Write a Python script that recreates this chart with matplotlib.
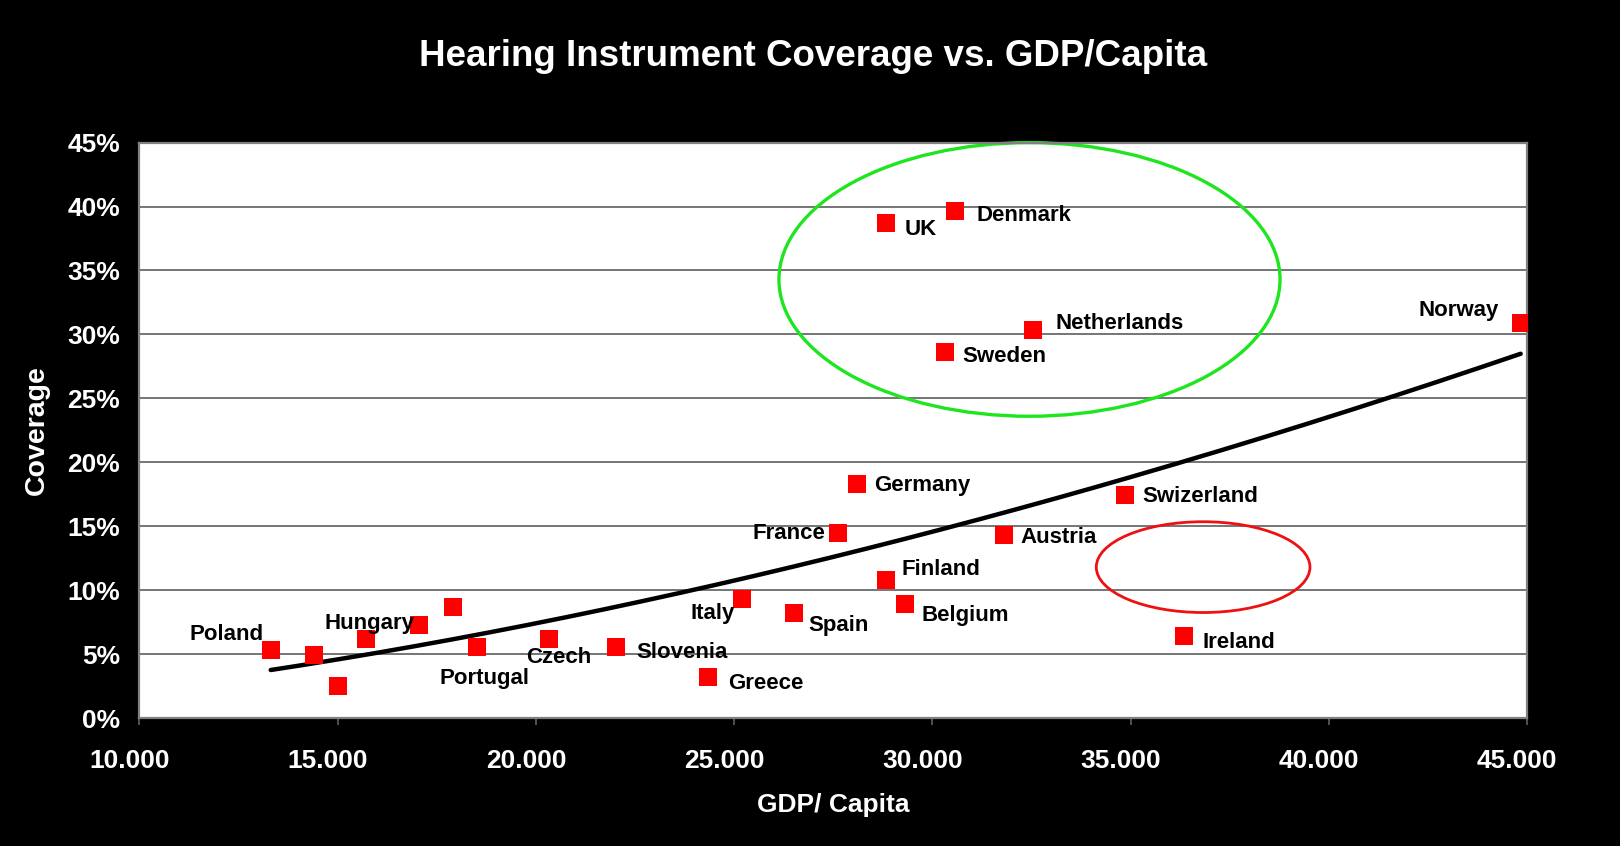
import numpy as np
import matplotlib
matplotlib.use("Agg")
import matplotlib.pyplot as plt
import matplotlib.transforms as mtransforms
from matplotlib.patches import Ellipse
from matplotlib.ticker import FuncFormatter

# GDP per capita and hearing instrument coverage (%) per country
countries = ["Poland", "", "", "", "Hungary", "", "Portugal", "Czech",
             "Slovenia", "Greece", "Italy", "Spain", "France", "Germany",
             "Finland", "UK", "Belgium", "Sweden", "Denmark", "Austria",
             "Netherlands", "Swizerland", "Ireland", "Norway"]
gdp = [13310, 14400, 15000, 15710, 17040, 17900, 18520, 20320,
       22010, 24330, 25190, 26520, 27620, 28110,
       28840, 28840, 29310, 30330, 30560, 31810,
       32540, 34860, 36350, 44840]
coverage = [5.33, 4.93, 2.50, 6.14, 7.27, 8.65, 5.58, 6.14,
            5.58, 3.23, 9.29, 8.24, 14.46, 18.34,
            10.83, 38.70, 8.89, 28.60, 39.67, 14.30,
            30.38, 17.45, 6.38, 30.86]

x_ticks = [10000, 15000, 20000, 25000, 30000, 35000, 40000, 45000]
y_ticks = [0, 5, 10, 15, 20, 25, 30, 35, 40, 45]

# label placement: (dx pt, dy pt, horizontal alignment)
label_pos = {
    "Poland": (-5, 11, "right"), "Hungary": (-3, 1, "right"),
    "Portugal": (5, -23, "center"), "Czech": (7, -13, "center"),
    "Slovenia": (15, -4, "left"), "Greece": (15, -5, "left"),
    "Italy": (-5, -10, "right"), "Spain": (10, -9, "left"),
    "France": (-9, 0, "right"), "Germany": (12, -1.5, "left"),
    "Finland": (11, 7, "left"), "UK": (13, -4.5, "left"),
    "Belgium": (12, -8, "left"), "Sweden": (12.5, -3, "left"),
    "Denmark": (15.5, -3.5, "left"), "Austria": (12, -1.5, "left"),
    "Netherlands": (16, 4.5, "left"), "Swizerland": (12.5, -1.5, "left"),
    "Ireland": (13, -4.5, "left"), "Norway": (-16, 9, "right"),
}

FONT = "Liberation Sans"

fig = plt.figure(figsize=(16.2, 8.46), dpi=100, facecolor="black")
ax = fig.add_axes([0.0861, 0.1513, 0.8565, 0.6801], facecolor="white")

ax.set_xlim(10000, 45000)
ax.set_ylim(0, 45)

# horizontal gridlines
for y in y_ticks[1:-1]:
    ax.axhline(y, color="#505050", lw=1.1, zorder=1)

# power trendline fitted in log-log space
gx = np.array(gdp, dtype=float)
gy = np.array(coverage, dtype=float)
b, ln_a = np.polyfit(np.log(gx), np.log(gy), 1)
tx = np.linspace(gx.min(), gx.max(), 200)
ax.plot(tx, np.exp(ln_a) * tx ** b, color="black", lw=3.2,
        solid_capstyle="round", zorder=3)

# data points
ax.plot(gdp, coverage, linestyle="none", marker="s", markersize=12.5,
        color="#ff0000", markeredgewidth=0, zorder=4)

for name, x, y in zip(countries, gdp, coverage):
    if not name:
        continue
    dx, dy, ha = label_pos[name]
    ax.annotate(name, (x, y), xytext=(dx, dy), textcoords="offset points",
                ha=ha, va="center", fontsize=16, fontweight="bold",
                family=FONT, color="black", zorder=5)

# highlight ellipses
ax.add_patch(Ellipse((32450, 34.3), 12640, 21.4, fill=False,
                     edgecolor="#1ee61e", lw=2.4, zorder=2, clip_on=False))
ax.add_patch(Ellipse((36830, 11.8), 5390, 7.1, fill=False,
                     edgecolor="#ee1111", lw=2.0, zorder=2, clip_on=False))

# axes styling
for side in ["left", "right", "top", "bottom"]:
    ax.spines[side].set_color("#808080")
    ax.spines[side].set_linewidth(1.6)

ax.set_xticks(x_ticks)
ax.set_yticks(y_ticks)
ax.xaxis.set_major_formatter(FuncFormatter(lambda v, p: f"{v/1000:.3f}"))
ax.yaxis.set_major_formatter(FuncFormatter(lambda v, p: f"{v:.0f}%"))
ax.tick_params(axis="x", colors="#606060", length=5, width=1.2, pad=17,
               labelcolor="white")
ax.tick_params(axis="y", length=0, pad=14, labelcolor="white")
shift = mtransforms.ScaledTranslation(-7 / 72, 0, fig.dpi_scale_trans)
for lab in ax.get_xticklabels():
    lab.set_family(FONT)
    lab.set_fontweight("bold")
    lab.set_fontsize(19)
    lab.set_transform(lab.get_transform() + shift)
for lab in ax.get_yticklabels():
    lab.set_family(FONT)
    lab.set_fontweight("bold")
    lab.set_fontsize(19)

fig.text(0.5146, 0.0485, "GDP/ Capita", ha="center", va="center",
         color="white", fontsize=19, fontweight="bold", family=FONT)
fig.text(0.0228, 0.4917, "Coverage", ha="center", va="center",
         rotation=90, color="white", fontsize=20.5, fontweight="bold",
         family=FONT)
fig.text(0.502, 0.933, "Hearing Instrument Coverage vs. GDP/Capita",
         ha="center", va="center", color="white", fontsize=26.5,
         fontweight="bold", family=FONT)

fig.savefig("out.png", dpi=100, facecolor="black")
